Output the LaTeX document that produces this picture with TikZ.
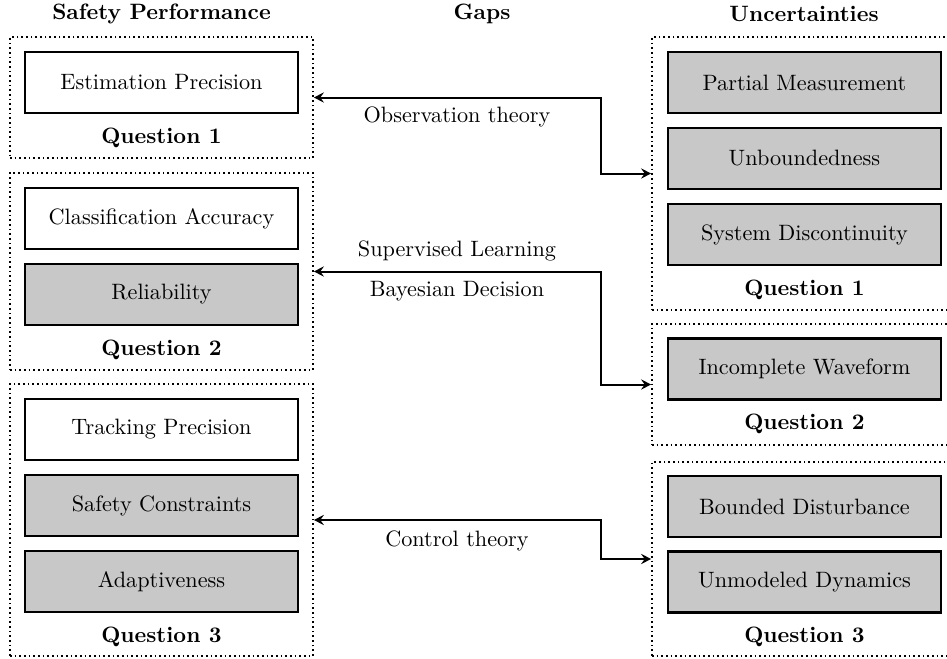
\documentclass[tikz,border=0pt]{standalone}
\usetikzlibrary{arrows.meta}
\definecolor{boxgray}{RGB}{200,200,200}
\newdimen\pxu
\pxu=0.45pt
\begin{document}
\begin{tikzpicture}[x=0.45pt,y=-0.45pt,
  item/.style={draw, line width=1.2pt, minimum width=273\pxu, minimum height=61\pxu,
    inner sep=0pt, font=\normalsize},
  shaded/.style={item, fill=boxgray},
  group/.style={draw, line width=0.8pt, dash pattern=on 0.8pt off 1.3pt, inner sep=0pt},
  qlabel/.style={font=\bfseries},
  title/.style={font=\bfseries},
  link/.style={{Stealth[length=4.5pt,width=4.6pt,inset=1.6pt]}-{Stealth[length=4.5pt,width=4.6pt,inset=1.6pt]}, line width=0.9pt},
  gaplabel/.style={}]
\useasboundingbox (0,0) rectangle (947,659);

% column titles
\node[title] (t1) at (161.5,14) {Safety Performance};
\node[title] (t2) at (482,14) {Gaps};
\node[title] (t3) at (804,14) {Uncertainties};

% safety performance groups
\node[group, minimum width=303\pxu, minimum height=121\pxu] (L1) at (161.5,97.5) {};
\node[group, minimum width=303\pxu, minimum height=197\pxu] (L2) at (161.5,271.5) {};
\node[group, minimum width=303\pxu, minimum height=272\pxu] (L3) at (161.5,520) {};

\node[item] (e1) at (161.5,82.5) {Estimation Precision};
\node[qlabel] (lq1) at (161.5,138) {Question 1};

\node[item] (c1) at (161.5,218.5) {Classification Accuracy};
\node[shaded] (r1) at (161.5,294.5) {Reliability};
\node[qlabel] (lq2) at (161.5,350) {Question 2};

\node[item] (k1) at (161.5,429.5) {Tracking Precision};
\node[shaded] (s1) at (161.5,505.5) {Safety Constraints};
\node[shaded] (a1) at (161.5,581.5) {Adaptiveness};
\node[qlabel] (lq3) at (161.5,637) {Question 3};

% uncertainty groups
\node[group, minimum width=304\pxu, minimum height=273\pxu] (R1) at (804,173.5) {};
\node[group, minimum width=304\pxu, minimum height=121\pxu] (R2) at (804,384.5) {};
\node[group, minimum width=304\pxu, minimum height=194\pxu] (R3) at (804,559) {};

\node[shaded] (p1) at (804.5,82.5) {Partial Measurement};
\node[shaded] (u1) at (804.5,158.5) {Unboundedness};
\node[shaded] (d1) at (804.5,234.5) {System Discontinuity};
\node[qlabel] (rq1) at (804.5,290) {Question 1};

\node[shaded] (w1) at (804.5,369) {Incomplete Waveform};
\node[qlabel] (rq2) at (804.5,424) {Question 2};

\node[shaded] (b1) at (804.5,506.5) {Bounded Disturbance};
\node[shaded] (m1) at (804.5,582) {Unmodeled Dynamics};
\node[qlabel] (rq3) at (804.5,637) {Question 3};

% gap connectors
\coordinate (j1) at (601,97.5);
\coordinate (j2) at (601,271.5);
\coordinate (j3) at (601,520);
\draw[link] (L1.east) -- (j1) |- (R1.west);
\draw[link] (L2.east) -- (j2) |- (R2.west);
\draw[link] (L3.east) -- (j3) |- (R3.west);

\node[gaplabel] (g1) at (457,117) {Observation theory};
\node[gaplabel] (g2) at (457,251) {Supervised Learning};
\node[gaplabel] (g3) at (457,291) {Bayesian Decision};
\node[gaplabel] (g4) at (457,541) {Control theory};
\end{tikzpicture}
\end{document}
